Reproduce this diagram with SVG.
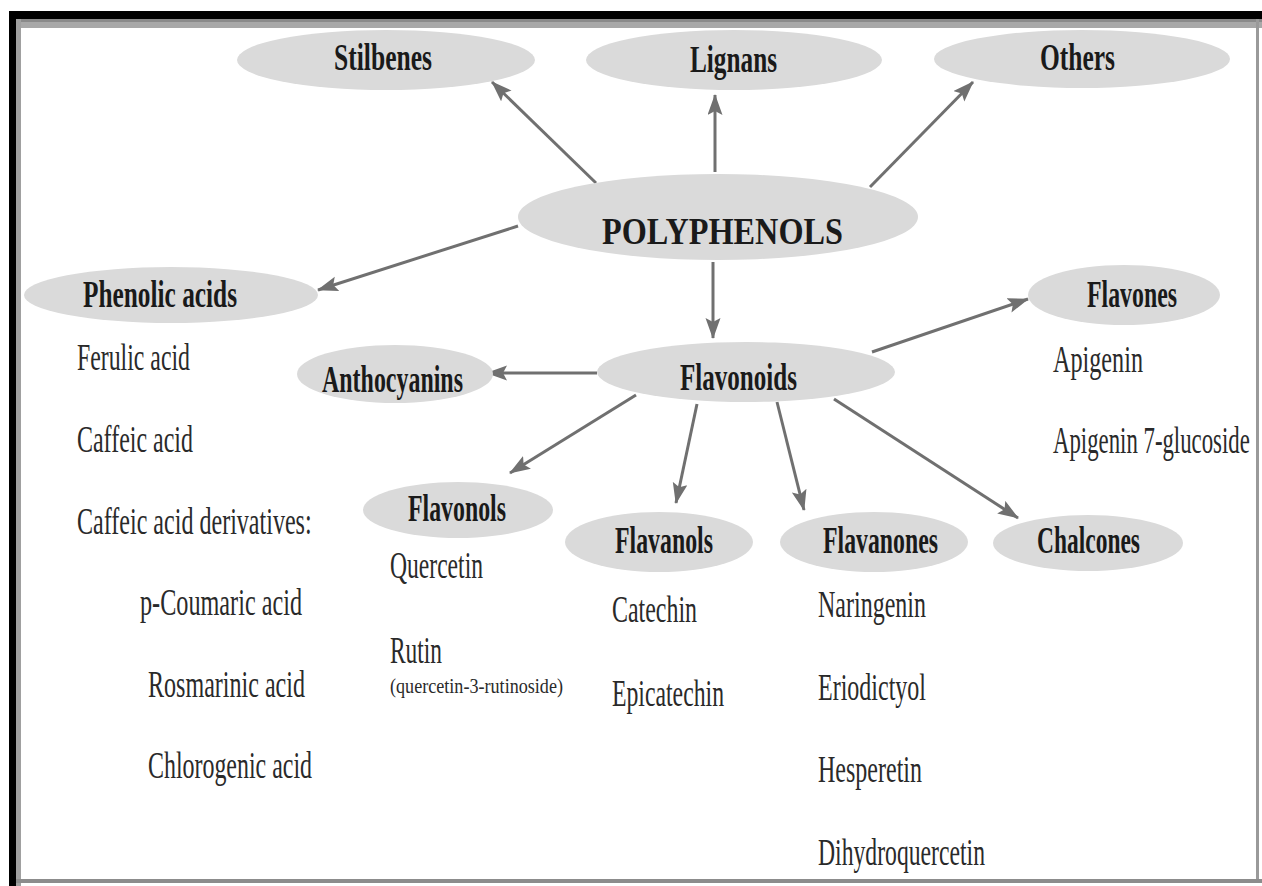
<svg xmlns="http://www.w3.org/2000/svg" width="1262" height="886" viewBox="0 0 1262 886">
<style>
.node ellipse{fill:#dadada;}
.lbl{font-family:"Liberation Serif","Times New Roman",serif;font-weight:bold;font-size:37px;fill:#1a1a1a;}
.txt{font-family:"Liberation Serif","Times New Roman",serif;font-size:37px;fill:#2a2a2a;}
.small{font-family:"Liberation Serif","Times New Roman",serif;font-size:20px;fill:#2a2a2a;}
.conn line{stroke:#707070;stroke-width:3;marker-end:url(#ah);}
</style>
<defs>
<marker id="ah" markerUnits="userSpaceOnUse" markerWidth="22" markerHeight="16" refX="20" refY="7.5" orient="auto">
<path d="M0,0 L21,7.5 L0,15 L4,7.5 z" fill="#707070"/>
</marker>
</defs>
<rect x="0" y="0" width="1262" height="886" fill="#ffffff"/>
<g id="frame">
<rect x="16" y="19" width="1246" height="9" fill="#a8a8a8"/>
<rect x="16" y="19" width="1246" height="3" fill="#8a8a8a"/>
<rect x="16" y="19" width="5" height="867" fill="#a0a0a0"/>
<rect x="1256" y="19" width="3" height="862" fill="#9a9a9a"/>
<rect x="16" y="879" width="1246" height="4" fill="#8c8c8c"/>
<rect x="9" y="11" width="1253" height="8" fill="#000"/>
<rect x="9" y="11" width="7" height="875" fill="#000"/>
</g>
<g id="connectors" class="conn">
<line x1="596" y1="183" x2="492" y2="82"/>
<line x1="715" y1="172" x2="715" y2="95"/>
<line x1="870" y1="187" x2="973" y2="82"/>
<line x1="518" y1="226" x2="318" y2="290"/>
<line x1="713" y1="262" x2="713" y2="338"/>
<line x1="872" y1="352" x2="1028" y2="299"/>
<line x1="597" y1="373" x2="487" y2="373"/>
<line x1="636" y1="395" x2="510" y2="473"/>
<line x1="697" y1="404" x2="676" y2="503"/>
<line x1="777" y1="402" x2="804" y2="510"/>
<line x1="834" y1="399" x2="1018" y2="518"/>
</g>
<g id="polyphenols" class="node">
<ellipse cx="718" cy="217" rx="200" ry="43"/>
<text class="lbl" x="602" y="244" font-size="52" textLength="241" lengthAdjust="spacingAndGlyphs">POLYPHENOLS</text>
</g>
<g id="stilbenes" class="node">
<ellipse cx="386" cy="60" rx="149" ry="30"/>
<text class="lbl" x="334" y="70" textLength="98" lengthAdjust="spacingAndGlyphs">Stilbenes</text>
</g>
<g id="lignans" class="node">
<ellipse cx="734" cy="60" rx="148" ry="30"/>
<text class="lbl" x="690" y="72" textLength="87" lengthAdjust="spacingAndGlyphs">Lignans</text>
</g>
<g id="others" class="node">
<ellipse cx="1082" cy="59" rx="148" ry="29"/>
<text class="lbl" x="1040" y="70" textLength="75" lengthAdjust="spacingAndGlyphs">Others</text>
</g>
<g id="phenolic-acids" class="node">
<ellipse cx="171" cy="295" rx="147" ry="28"/>
<text class="lbl" x="83" y="307" font-size="34" textLength="154" lengthAdjust="spacingAndGlyphs">Phenolic acids</text>
<text class="txt" x="77" y="370" textLength="113" lengthAdjust="spacingAndGlyphs">Ferulic acid</text>
<text class="txt" x="77" y="452" textLength="116" lengthAdjust="spacingAndGlyphs">Caffeic acid</text>
<text class="txt" x="0" y="0" transform="matrix(0.65,0,0,1,77,534)" textLength="361" lengthAdjust="spacingAndGlyphs">Caffeic acid derivatives:</text>
<text class="txt" x="140" y="615" textLength="162" lengthAdjust="spacingAndGlyphs">p-Coumaric acid</text>
<text class="txt" x="148" y="697" textLength="157" lengthAdjust="spacingAndGlyphs">Rosmarinic acid</text>
<text class="txt" x="148" y="778" textLength="164" lengthAdjust="spacingAndGlyphs">Chlorogenic acid</text>
</g>
<g id="anthocyanins" class="node">
<ellipse cx="395" cy="374" rx="98" ry="29"/>
<text class="lbl" x="322" y="392" font-size="35" textLength="141" lengthAdjust="spacingAndGlyphs">Anthocyanins</text>
</g>
<g id="flavonoids" class="node">
<ellipse cx="746" cy="372" rx="149" ry="30"/>
<text class="lbl" x="680" y="390" font-size="39" textLength="117" lengthAdjust="spacingAndGlyphs">Flavonoids</text>
</g>
<g id="flavones" class="node">
<ellipse cx="1124" cy="295" rx="96" ry="30"/>
<text class="lbl" x="1087" y="307" font-size="34" textLength="90" lengthAdjust="spacingAndGlyphs">Flavones</text>
<text class="txt" x="1053" y="372" textLength="90" lengthAdjust="spacingAndGlyphs">Apigenin</text>
<text class="txt" x="0" y="0" transform="matrix(0.615,0,0,1,1053,453)" textLength="320" lengthAdjust="spacingAndGlyphs">Apigenin 7-glucoside</text>
</g>
<g id="flavonols" class="node">
<ellipse cx="458" cy="510" rx="95" ry="28"/>
<text class="lbl" x="408" y="521" font-size="34" textLength="98" lengthAdjust="spacingAndGlyphs">Flavonols</text>
<text class="txt" x="390" y="578" textLength="93" lengthAdjust="spacingAndGlyphs">Quercetin</text>
<text class="txt" x="390" y="663" font-size="34" textLength="52" lengthAdjust="spacingAndGlyphs">Rutin</text>
<text class="small" x="390" y="693" textLength="173" lengthAdjust="spacingAndGlyphs">(quercetin-3-rutinoside)</text>
</g>
<g id="flavanols" class="node">
<ellipse cx="659" cy="542" rx="94" ry="30"/>
<text class="lbl" x="615" y="553" textLength="98" lengthAdjust="spacingAndGlyphs">Flavanols</text>
<text class="txt" x="612" y="622" textLength="85" lengthAdjust="spacingAndGlyphs">Catechin</text>
<text class="txt" x="612" y="706" textLength="112" lengthAdjust="spacingAndGlyphs">Epicatechin</text>
</g>
<g id="flavanones" class="node">
<ellipse cx="874" cy="542" rx="94" ry="30"/>
<text class="lbl" x="823" y="553" textLength="115" lengthAdjust="spacingAndGlyphs">Flavanones</text>
<text class="txt" x="818" y="617" textLength="108" lengthAdjust="spacingAndGlyphs">Naringenin</text>
<text class="txt" x="818" y="700" textLength="108" lengthAdjust="spacingAndGlyphs">Eriodictyol</text>
<text class="txt" x="818" y="782" textLength="104" lengthAdjust="spacingAndGlyphs">Hesperetin</text>
<text class="txt" x="818" y="865" textLength="167" lengthAdjust="spacingAndGlyphs">Dihydroquercetin</text>
</g>
<g id="chalcones" class="node">
<ellipse cx="1088" cy="543" rx="95" ry="28"/>
<text class="lbl" x="1037" y="553" font-size="35" textLength="103" lengthAdjust="spacingAndGlyphs">Chalcones</text>
</g>
</svg>
